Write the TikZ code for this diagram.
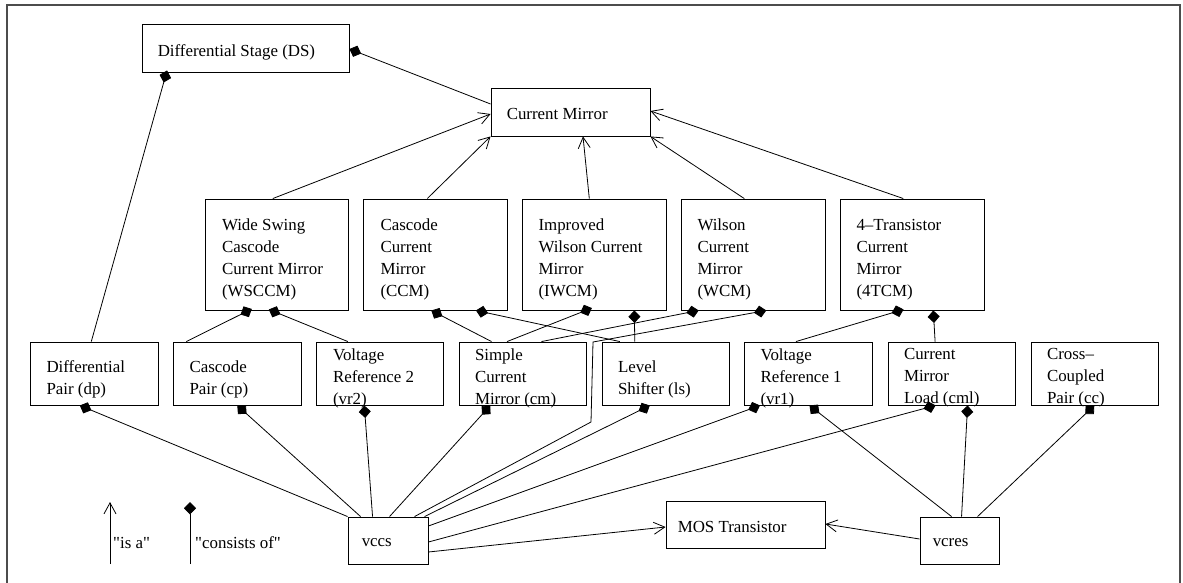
\documentclass[tikz,border=0pt]{standalone}
\usepackage{fontspec}
\setmainfont{Liberation Serif}
% same face without the TeX mapping, so that " stays a straight quote
\newfontfamily\plainserif{Liberation Serif}
\usetikzlibrary{arrows.meta}

\begin{document}
\begin{tikzpicture}[x=1pt,y=-1pt,
  every node/.style={inner sep=0pt},
  box/.style={draw,line width=0.9pt},
  big/.style={box,minimum width=143.5pt,minimum height=111pt},
  small/.style={box,minimum width=127.5pt,minimum height=63pt},
  wide/.style={box,minimum width=159pt,minimum height=47pt},
  tiny/.style={box,minimum width=80pt,minimum height=47pt},
  lbl/.style={anchor=west,align=left,font=\fontsize{16.9}{22}\selectfont},
  legend/.style={anchor=base west,font=\plainserif\fontsize{16.9}{22}\selectfont},
  edge/.style={line width=0.8pt},
  isa/.style={edge,-{Straight Barb[length=11pt,width=12pt]}},
  has/.style={edge,-{Diamond[length=12.5pt,width=12pt]}},
]
\useasboundingbox (0,0) rectangle (1183,583);
% frame
\draw[line width=1.6pt,black!70] (7,590) -- (7,5) -- (1180,5) -- (1180,590);

% top level
\node[box,minimum width=207pt,minimum height=48pt] (ds) at (245.5,48) {};
\node[lbl,xshift=16pt,yshift=-4pt] (dst) at (ds.west) {Differential Stage (DS)};
\node[box,minimum width=159pt,minimum height=48pt] (cm) at (570.5,112) {};
\node[lbl,xshift=16pt,yshift=-2pt] (cmt) at (cm.west) {Current Mirror};

% current mirror variants
\node[big] (wsccm) at (277,254.5) {};
\node[lbl,xshift=17pt,yshift=-5pt] (wsccmt) at (wsccm.west) {Wide Swing\\Cascode\\Current Mirror\\(WSCCM)};
\node[big] (ccm) at (435.5,254.5) {};
\node[lbl,xshift=17pt,yshift=-5pt] (ccmt) at (ccm.west) {Cascode\\Current\\Mirror\\(CCM)};
\node[big] (iwcm) at (594.5,254.5) {};
\node[lbl,xshift=16pt,yshift=-5pt] (iwcmt) at (iwcm.west) {Improved\\Wilson Current\\Mirror\\(IWCM)};
\node[big] (wcm) at (753.5,254.5) {};
\node[lbl,xshift=16pt,yshift=-5pt] (wcmt) at (wcm.west) {Wilson\\Current\\Mirror\\(WCM)};
\node[big] (tcm) at (912.5,254.5) {};
\node[lbl,xshift=16pt,yshift=-5pt] (tcmt) at (tcm.west) {4–Transistor\\Current\\Mirror\\(4TCM)};

% building blocks
\node[small] (dp) at (94.5,373.5) {};
\node[lbl,xshift=16pt,yshift=-6pt] (dpt) at (dp.west) {Differential\\Pair (dp)};
\node[small] (cp) at (237.5,373.5) {};
\node[lbl,xshift=16pt,yshift=-6pt] (cpt) at (cp.west) {Cascode\\Pair (cp)};
\node[small] (vrtwo) at (380,373.5) {};
\node[lbl,xshift=17pt,yshift=-4.5pt] (vrtwot) at (vrtwo.west) {Voltage\\Reference 2\\(vr2)};
\node[small] (scm) at (523,373.5) {};
\node[lbl,xshift=16pt,yshift=-4.5pt] (scmt) at (scm.west) {Simple\\Current\\Mirror (cm)};
\node[small] (ls) at (666,373.5) {};
\node[lbl,xshift=16pt,yshift=-6pt] (lst) at (ls.west) {Level\\Shifter (ls)};
\node[small] (vrone) at (808.5,373.5) {};
\node[lbl,xshift=16pt,yshift=-4.5pt] (vronet) at (vrone.west) {Voltage\\Reference 1\\(vr1)};
\node[small] (cml) at (952,373.5) {};
\node[lbl,xshift=16pt,yshift=-4.5pt] (cmlt) at (cml.west) {Current\\Mirror\\Load (cml)};
\node[small] (cc) at (1095,373.5) {};
\node[lbl,xshift=16pt,yshift=-4.5pt] (cct) at (cc.west) {Cross–\\Coupled\\Pair (cc)};

% devices
\node[tiny] (vccs) at (388,540.5) {};
\node[lbl,xshift=14pt,yshift=-2pt] (vccst) at (vccs.west) {vccs};
\node[wide] (mos) at (745.5,524.5) {};
\node[lbl,xshift=12pt,yshift=-2pt] (most) at (mos.west) {MOS Transistor};
\node[tiny,minimum width=79pt] (vcres) at (959.5,540.5) {};
\node[lbl,xshift=13pt,yshift=-2pt] (vcrest) at (vcres.west) {vcres};

% "is a" relations
\draw[isa] ([xshift=68pt]wsccm.north west) -- ([yshift=-2pt]cm.west);
\draw[isa] ([xshift=64pt]ccm.north west) -- (cm.south west);
\draw[isa] ([xshift=67pt]iwcm.north west) -- ([xshift=12.5pt]cm.south);
\draw[isa] ([xshift=63pt]wcm.north west) -- (cm.south east);
\draw[isa] ([xshift=63pt]tcm.north west) -- ([yshift=1pt]cm.east);
\draw[isa] ([yshift=-11.5pt]vccs.east) -- ([yshift=-2.5pt]mos.west);
\draw[isa] ([yshift=1.5pt]vcres.west) -- ([yshift=0.5pt]mos.east);

% "consists of" relations
\draw[has] ([yshift=8pt]cm.west) -- ([yshift=-1pt]ds.east);
\draw[has] ([xshift=61pt]dp.north west) -- ([xshift=25.5pt,yshift=2pt]ds.south west);

\draw[has] ([xshift=13pt]cp.north west) -- ([xshift=47pt,yshift=1.5pt]wsccm.south west);
\draw[has] ([xshift=32pt]vrtwo.north west) -- ([xshift=64pt,yshift=1pt]wsccm.south west);

\draw[has] ([xshift=32.7pt]scm.north west) -- ([xshift=68pt]ccm.south west);
\draw[has] ([xshift=18pt]ls.north west) -- ([xshift=112.6pt]ccm.south west);

\draw[has] ([xshift=48.3pt]scm.north west) -- ([xshift=69.6pt,yshift=2.4pt]iwcm.south west);
\draw[has] ([xshift=33pt]ls.north west) -- ([xshift=112pt]iwcm.south west);

\draw[has] ([xshift=82.7pt]scm.north west) -- ([xshift=17.4pt]wcm.south west);
\coordinate (bendA) at (591,422);
\coordinate (bendB) at (593,342);
\draw[has] ([xshift=67pt]vccs.north west) -- (bendA) -- (bendB) -- ([xshift=85pt]wcm.south west);

\draw[has] ([xshift=51.7pt]vrone.north west) -- ([xshift=63.3pt,yshift=1pt]tcm.south west);
\draw[has] ([xshift=47.3pt]cml.north west) -- ([xshift=93pt]tcm.south west);

\draw[has] (vccs.north west) -- ([xshift=49.5pt]dp.south west);
\draw[has] ([xshift=13pt]vccs.north west) -- ([xshift=64pt]cp.south west);
\draw[has] ([xshift=25pt]vccs.north west) -- ([xshift=48.5pt]vrtwo.south west);
\draw[has] ([xshift=42pt]vccs.north west) -- ([xshift=31.5pt]scm.south west);
\draw[has] ([xshift=77pt]vccs.north west) -- ([xshift=48pt]ls.south west);
\draw[has] ([yshift=14.5pt]vccs.east) -- ([xshift=15.7pt]vrone.south west);
\draw[has] ([yshift=-1.5pt]vccs.east) -- ([xshift=47.8pt]cml.south west);

\draw[has] ([xshift=32pt]vcres.north west) -- ([xshift=65.2pt]vrone.south west);
\draw[has] ([xshift=42pt]vcres.north west) -- ([xshift=79.8pt]cml.south west);
\draw[has] ([xshift=58pt]vcres.north west) -- ([xshift=63.5pt]cc.south west);

% legend
\coordinate (isaA) at (110,564);
\coordinate (isaB) at (110,502);
\draw[isa] (isaA) -- (isaB);
\node[legend] (isat) at (113,548) {"is a"};
\coordinate (hasA) at (190,564);
\coordinate (hasB) at (190,502);
\draw[has] (hasA) -- (hasB);
\node[legend] (hast) at (195,548) {"consists of"};
\end{tikzpicture}
\end{document}
